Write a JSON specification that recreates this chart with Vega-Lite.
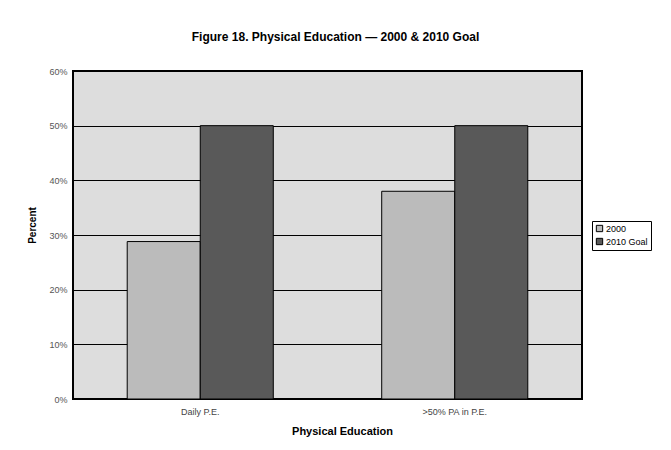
{
  "$schema": "https://vega.github.io/schema/vega-lite/v6.json",
  "autosize": "none",
  "width": 509,
  "height": 328,
  "padding": {"left": 73, "top": 71, "right": 89, "bottom": 51},
  "background": "white",
  "title": {
    "text": "Figure 18. Physical Education — 2000 & 2010 Goal",
    "font": "Liberation Sans",
    "fontSize": 12,
    "fontWeight": "bold",
    "color": "black",
    "anchor": "middle",
    "dx": 8,
    "offset": 23
  },
  "data": {
    "values": [
      {"category": "Daily P.E.", "series": "2000", "percent": 28.8},
      {"category": "Daily P.E.", "series": "2010 Goal", "percent": 50},
      {"category": ">50% PA in P.E.", "series": "2000", "percent": 38},
      {"category": ">50% PA in P.E.", "series": "2010 Goal", "percent": 50}
    ]
  },
  "mark": {"type": "bar", "stroke": "black", "strokeWidth": 1},
  "encoding": {
    "x": {
      "field": "category",
      "type": "nominal",
      "sort": ["Daily P.E.", ">50% PA in P.E."],
      "scale": {"paddingInner": 0.426, "paddingOuter": 0.213},
      "axis": {
        "title": "Physical Education",
        "titleFont": "Liberation Sans",
        "titleFontSize": 11,
        "titleFontWeight": "bold",
        "titleColor": "black",
        "titlePadding": 9,
        "titleX": 269,
        "titleAlign": "center",
        "labelFont": "Liberation Sans",
        "labelFontSize": 9,
        "labelColor": "#444",
        "labelAngle": 0,
        "labelPadding": 8,
        "ticks": false,
        "domain": false
      }
    },
    "xOffset": {"field": "series", "type": "nominal", "scale": {"paddingInner": 0, "paddingOuter": 0}},
    "y": {
      "field": "percent",
      "type": "quantitative",
      "scale": {"domain": [0, 60], "nice": false},
      "axis": {
        "title": "Percent",
        "titleFont": "Liberation Sans",
        "titleFontSize": 10,
        "titleFontWeight": "bold",
        "titleColor": "black",
        "titlePadding": 11,
        "titleY": 154,
        "titleAlign": "center",
        "labelFont": "Liberation Sans",
        "labelFontSize": 9,
        "labelColor": "#555",
        "labelPadding": 6,
        "labelExpr": "datum.value + '%'",
        "values": [0, 10, 20, 30, 40, 50, 60],
        "ticks": false,
        "domain": false,
        "grid": true,
        "gridColor": "black",
        "gridWidth": 1,
        "gridOpacity": 1
      }
    },
    "color": {
      "field": "series",
      "type": "nominal",
      "scale": {"domain": ["2000", "2010 Goal"], "range": ["#BBBBBB", "#595959"]},
      "legend": {
        "title": null,
        "orient": "none",
        "legendX": 519,
        "legendY": 150,
        "symbolType": "square",
        "symbolSize": 40,
        "symbolStrokeColor": "black",
        "symbolStrokeWidth": 1,
        "labelFont": "Liberation Sans",
        "labelFontSize": 9,
        "labelColor": "black",
        "labelOffset": 2,
        "rowPadding": 2,
        "padding": 3,
        "strokeColor": "black",
        "fillColor": "white"
      }
    }
  },
  "config": {
    "view": {"fill": "#DDDDDD", "stroke": "black", "strokeWidth": 2}
  }
}
